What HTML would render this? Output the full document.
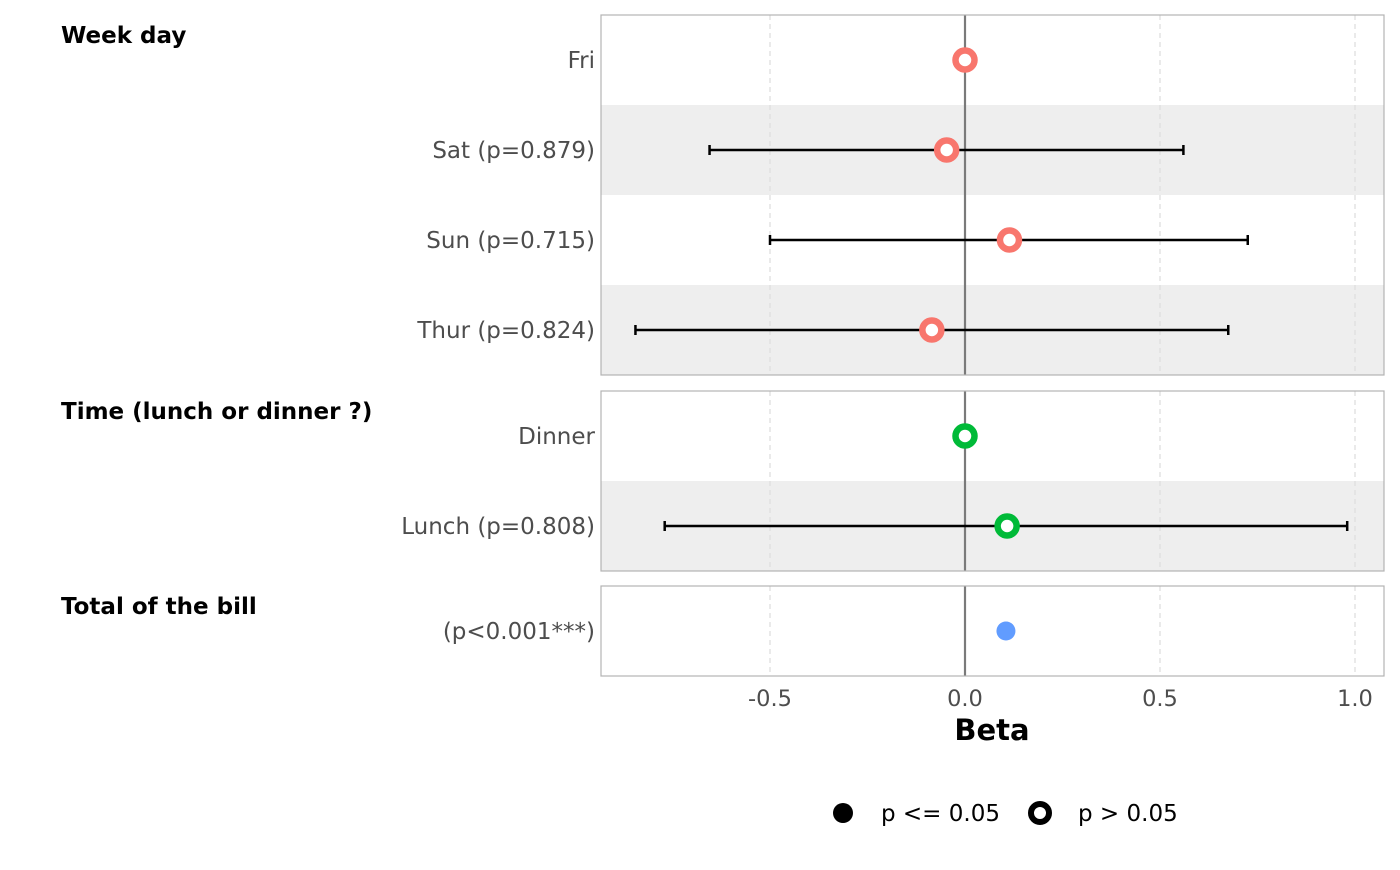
<!DOCTYPE html>
<html><head><meta charset="utf-8"><style>
body{margin:0;background:#fff;font-family:"Liberation Sans","DejaVu Sans",sans-serif}
</style></head><body>
<svg id="chart" width="1400" height="865" xmlns="http://www.w3.org/2000/svg" font-family="DejaVu Sans, Liberation Sans, sans-serif"></svg>
<script>
const groups=["Week day","Time (lunch or dinner ?)","Total of the bill"];
const labels=["Fri","Sat (p=0.879)","Sun (p=0.715)","Thur (p=0.824)","Dinner","Lunch (p=0.808)","(p<0.001***)"];
const groupIdx=[0,0,0,0,1,1,2];
const estimates=[0,-0.047,0.114,-0.085,0,0.108,0.105];
const ciLow=[null,-0.655,-0.5,-0.845,null,-0.77,null];
const ciHigh=[null,0.56,0.725,0.675,null,0.98,null];
const significant=[false,false,false,false,false,false,true];
const ticks=[-0.5,0,0.5,1.0];
const tickLabels=["-0.5","0.0","0.5","1.0"];
const colors=["#F8766D","#00BA38","#619CFF"];

const svg=document.getElementById('chart');
const NS="http://www.w3.org/2000/svg";
function el(t,a,p){const e=document.createElementNS(NS,t);for(const k in a)e.setAttribute(k,a[k]);(p||svg).appendChild(e);return e;}
const X0=601,X1=1384;
const x=v=>965+v*390;
const panels=[{y0:15,y1:375},{y0:391,y1:571},{y0:586,y1:676}];
const rowH=90;
panels.forEach((p,gi)=>{
  const rows=labels.map((l,i)=>i).filter(i=>groupIdx[i]===gi);
  rows.forEach((ri,k)=>{
    if(k%2===1){const r=el('rect',{x:X0,y:p.y0+k*rowH,width:X1-X0,height:rowH,fill:'#eeeeee'});
    
    }
  });
  ticks.forEach(t=>{const g=el('line',{x1:x(t),x2:x(t),y1:p.y0,y2:p.y1,stroke:'#dddddd','stroke-dasharray':'5,4','stroke-width':1.2});
    });
  const z=el('line',{x1:x(0),x2:x(0),y1:p.y0,y2:p.y1,stroke:'#7a7a7a','stroke-width':2.2});
  
  const b=el('rect',{x:X0,y:p.y0,width:X1-X0,height:p.y1-p.y0,fill:'none',stroke:'#b3b3b3','stroke-width':1.2});
  
  const gt=el('text',{x:61,y:p.y0+28,'font-size':23,'font-weight':'bold',fill:'#000'});gt.textContent=groups[gi];
  
  rows.forEach((ri,k)=>{
    const cy=p.y0+k*rowH+45;
    const lt=el('text',{x:595,y:cy+8,'font-size':23,fill:'#4d4d4d','text-anchor':'end'});lt.textContent=labels[ri];
    
    if(ciLow[ri]!==null){
      const c=el('g',{stroke:'#000','stroke-width':2.5});
      
      el('line',{x1:x(ciLow[ri]),x2:x(ciHigh[ri]),y1:cy,y2:cy},c);
      el('line',{x1:x(ciLow[ri]),x2:x(ciLow[ri]),y1:cy-5,y2:cy+5},c);
      el('line',{x1:x(ciHigh[ri]),x2:x(ciHigh[ri]),y1:cy-5,y2:cy+5},c);
    }
    const col=colors[gi];
    let pt;
    if(significant[ri]) pt=el('circle',{cx:x(estimates[ri]),cy:cy,r:9.5,fill:col});
    else pt=el('circle',{cx:x(estimates[ri]),cy:cy,r:9.5,fill:'#fff',stroke:col,'stroke-width':6.5});
    
  });
});
ticks.forEach((t,i)=>{const tt=el('text',{x:x(t),y:706,'font-size':22.5,fill:'#4d4d4d','text-anchor':'middle'});tt.textContent=tickLabels[i];
  });
const xt=el('text',{x:992,y:740,'font-size':29,'font-weight':'bold','text-anchor':'middle'});xt.textContent='Beta';

const lg=el('g',{});
el('circle',{cx:843,cy:813,r:10,fill:'#000'},lg);
const l1=el('text',{x:881,y:821,'font-size':23},lg);l1.textContent='p <= 0.05';
el('circle',{cx:1040,cy:813,r:9,fill:'#fff',stroke:'#000','stroke-width':6},lg);
const l2=el('text',{x:1078,y:821,'font-size':23},lg);l2.textContent='p > 0.05';
</script>
</body></html>
